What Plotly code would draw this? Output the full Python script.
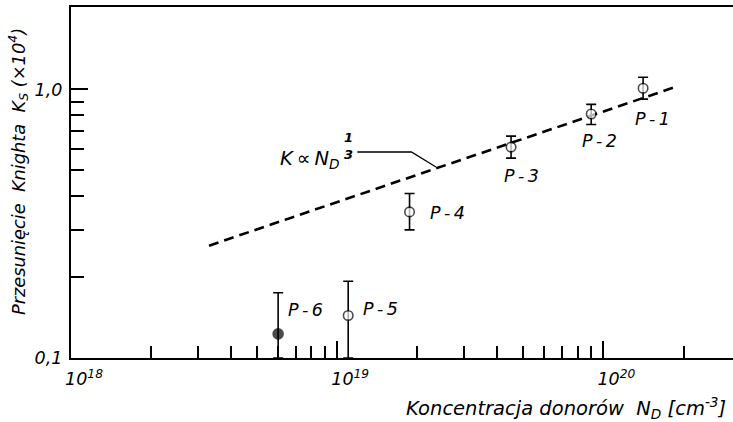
import numpy as np
import plotly.graph_objects as go

# Samples P-1 ... P-6: donor concentration N_D [cm^-3] and Knight shift K_S (x10^4)
labels = ["P-1", "P-2", "P-3", "P-4", "P-5", "P-6"]
n_donor = [1.41e20, 9.0e19, 4.5e19, 1.87e19, 1.10e19, 6.0e18]
k_shift = [1.01, 0.81, 0.61, 0.35, 0.144, 0.123]
k_upper = [1.11, 0.88, 0.67, 0.41, 0.193, 0.175]
k_lower = [0.92, 0.74, 0.555, 0.30, 0.10, 0.10]
filled = [False, False, False, False, False, True]

# Label offsets (px) relative to each point
label_dx = [-10, -11, -9, 18, 13, 8]
label_dy = [-31, -27, -29, -1, 6, 24]

# Reference line K ~ N_D^(1/3): end points
fit_n = [3.3e18, 1.89e20]
fit_k = [0.262, 1.026]

# Callout for the formula
callout_n = [1.19e19, 1.90e19, 2.35e19]
callout_k = [0.585, 0.585, 0.514]

x_ticks = [1e18, 1e19, 1e20]
x_ticktext = ["<i>10<sup>18</sup></i>", "<i>10<sup>19</sup></i>", "<i>10<sup>20</sup></i>"]
x_minor = [float(m) * 10.0 ** e for e in (18, 19) for m in range(2, 10)] + [2e20]
y_ticks = [0.1, 1.0]
y_ticktext = ["<i>0,1</i>", "<i>1,0</i>"]
y_minor = [0.2, 0.3, 0.4, 0.5, 0.6, 0.7, 0.8, 0.9]

x_title = "<i>Koncentracja donorów  N<sub>D</sub> [cm<sup>-3</sup>]</i>"
y_title = "<i>Przesunięcie  Knighta  K<sub>S</sub> (×10<sup>4</sup>)</i>"

INK = "#000000"
FONT = "DejaVu Sans"


def ink_font(size):
    return dict(size=size, color=INK, family=FONT)


fig = go.Figure()

fig.add_trace(go.Scatter(
    x=fit_n, y=fit_k, mode="lines",
    line=dict(color=INK, width=2.6, dash="10px,6px"),
    hoverinfo="skip", showlegend=False,
))

fig.add_trace(go.Scatter(
    x=callout_n, y=callout_k, mode="lines",
    line=dict(color=INK, width=1.3),
    hoverinfo="skip", showlegend=False,
))

plus = [u - k for u, k in zip(k_upper, k_shift)]
minus = [k - l for k, l in zip(k_shift, k_lower)]
fig.add_trace(go.Scatter(
    x=n_donor, y=k_shift, mode="markers",
    marker=dict(
        size=[9.5 if not f else 10 for f in filled],
        color=[INK if f else "white" for f in filled],
        line=dict(color=INK, width=1.6),
    ),
    error_y=dict(type="data", symmetric=False, array=plus, arrayminus=minus,
                 color=INK, thickness=1.6, width=5),
    cliponaxis=False,
    showlegend=False,
))

annotations = []
for lab, n, k, dx, dy in zip(labels, n_donor, k_shift, label_dx, label_dy):
    annotations.append(dict(
        x=np.log10(n), y=np.log10(k), xref="x", yref="y",
        text="<i>" + lab.replace("-", "\u2009-\u2009") + "</i>", showarrow=False,
        xanchor="left", yanchor="middle", xshift=dx, yshift=dy,
        font=ink_font(17.5),
    ))

# Formula K ∝ N_D^(1/3) with a stacked fraction exponent
annotations.append(dict(
    x=19.018, y=-0.262, xref="x", yref="y",
    text="<i>K\u2009\u221d\u2009N<sub>D</sub></i>", showarrow=False,
    xanchor="right", yanchor="middle", font=ink_font(19.5),
))
annotations.append(dict(
    x=19.043, y=-0.180, xref="x", yref="y", text="<b><i>1</i></b>", showarrow=False,
    xanchor="center", yanchor="middle", font=ink_font(13),
))
annotations.append(dict(
    x=19.043, y=-0.242, xref="x", yref="y", text="<b><i>3</i></b>", showarrow=False,
    xanchor="center", yanchor="middle", font=ink_font(13),
))

# Axis titles
annotations.append(dict(
    x=0.9924, y=-0.1425, xref="paper", yref="paper", text=x_title,
    showarrow=False, xanchor="right", yanchor="middle", font=ink_font(19.5),
))
annotations.append(dict(
    x=-0.08, y=0.53, xref="paper", yref="paper", text=y_title,
    showarrow=False, xanchor="center", yanchor="middle", textangle=-90,
    font=ink_font(17.8),
))

shapes = [dict(type="line", xref="x", yref="y",
               x0=19.026, x1=19.060, y0=-0.211, y1=-0.211,
               line=dict(color=INK, width=1.3))]

fig.update_layout(
    width=733, height=422,
    margin=dict(l=71, r=0, t=7, b=64),
    paper_bgcolor="white", plot_bgcolor="white",
    font=ink_font(17),
    annotations=annotations,
    shapes=shapes,
    showlegend=False,
)

fig.update_xaxes(
    type="log", range=[18.0, 20.487],
    showgrid=False, zeroline=False,
    showline=True, linecolor=INK, linewidth=2.2, mirror=True,
    tickmode="array", tickvals=x_ticks, ticktext=x_ticktext,
    ticks="inside", ticklen=17, tickwidth=1.5, tickcolor=INK,
    ticklabelshift=13, ticklabelstandoff=4,
    tickfont=ink_font(17.5),
    minor=dict(tickmode="array", tickvals=x_minor, ticks="inside",
               ticklen=12, tickwidth=1.5, tickcolor=INK, showgrid=False),
)
fig.update_yaxes(
    type="log", range=[-1.0, 0.307],
    showgrid=False, zeroline=False,
    showline=True, linecolor=INK, linewidth=2.2,
    tickmode="array", tickvals=y_ticks, ticktext=y_ticktext,
    ticks="inside", ticklen=17, tickwidth=1.5, tickcolor=INK,
    ticklabelstandoff=3,
    tickfont=ink_font(17.5),
    minor=dict(tickmode="array", tickvals=y_minor, ticks="inside",
               ticklen=13, tickwidth=1.5, tickcolor=INK, showgrid=False),
)

fig.write_html("out.html")
